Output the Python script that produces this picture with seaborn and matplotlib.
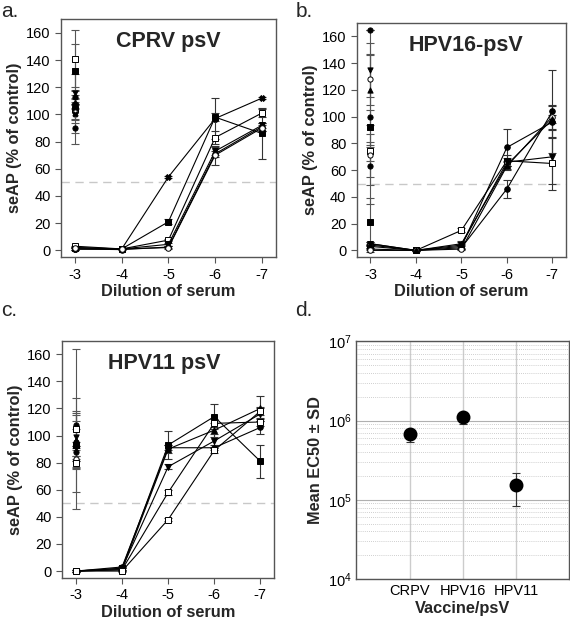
import numpy as np
import pandas as pd
import matplotlib.pyplot as plt
import seaborn as sns

# ---- data ----
dilutions = [3, 4, 5, 6, 7]
dilution_labels = ["-3", "-4", "-5", "-6", "-7"]

# panel a: CRPV psV, immune sera (lines)
a_means = [[1, 1, 54, 97, 112],
           [2, 1, 21, 98, 86],
           [3, 1, 7.5, 83, 101],
           [1, 1, 4.4, 73, 92],
           [1, 0.5, 2.4, 71, 91],
           [2, 1, 2, 70, 90]]
a_sds = [[0.5, 0.3, 1, 15, 1],
         [0.5, 0.3, 2, 3, 19],
         [0.5, 0.3, 1, 5, 3],
         [0.5, 0.3, 1, 3, 2],
         [0.5, 0.3, 1, 2, 3],
         [0.5, 0.3, 1, 7, 2]]
a_markers = ["X", "s", "s", "v", "o", "o"]
a_hollow = [False, False, True, False, False, True]
# panel a: control sera at -3
a_ctrl = [141, 132, 116, 113, 108, 104, 102, 100, 90]
a_ctrl_sd = [21, 20, 2, 4, 3, 26, 5, 4, 4]
a_ctrl_markers = ["s", "s", "v", "o", "D", "s", "o", "X", "o"]
a_ctrl_hollow = [True, False, False, False, False, False, True, False, False]

# panel b: HPV16-psV
b_means = [[4, 0, 3, 77, 96],
           [1, 0, 2, 46, 104],
           [3, 0, 15, 67, 65],
           [5, 0, 4, 66, 70],
           [0, 0, 1, 63, 100],
           [5, 0, 5, 64, 98]]
b_sds = [[1, 0.3, 2, 14, 12],
         [1, 0.3, 1, 7, 31],
         [1, 0.3, 1.5, 4, 20],
         [1, 0.3, 3, 3, 20],
         [1, 0.3, 1, 3, 9],
         [1, 0.3, 1, 3, 3]]
b_markers = ["o", "o", "s", "v", "o", "^"]
b_hollow = [False, False, True, False, True, False]
b_ctrl = [165, 135, 128, 120, 100, 92, 74, 71, 63, 21]
b_ctrl_sd = [0, 20, 19, 26, 65, 13, 7, 16, 14, 18]
b_ctrl_markers = ["o", "v", "o", "^", "o", "s", "s", "o", "o", "s"]
b_ctrl_hollow = [False, False, True, False, False, False, True, True, False, False]

# panel c: HPV11 psV
c_means = [[0, 2, 93, 114, 81],
           [0, 3, 91, 91, 106],
           [0, 1, 90, 104, 120],
           [0, 2, 77, 96, 116],
           [0, 1, 58, 109, 110],
           [0, 0, 38, 89, 118]]
c_sds = [[0.5, 1, 10, 9, 12],
         [0.5, 1, 2, 2, 5],
         [0.5, 1, 3, 5, 9],
         [0.5, 1, 2, 5, 4],
         [0.5, 1, 2, 3, 3],
         [0.5, 1, 1, 2, 3]]
c_markers = ["s", "o", "^", "v", "s", "s"]
c_hollow = [False, False, False, False, True, True]
c_ctrl = [108, 105, 99, 97, 95, 93, 92, 88, 83, 80]
c_ctrl_sd = [3, 59, 18, 21, 20, 35, 3, 3, 2, 3]
c_ctrl_markers = ["o", "s", "v", "^", "o", "s", "D", "o", "o", "s"]
c_ctrl_hollow = [False, True, False, False, False, False, False, False, True, True]

# panel d: EC50
vaccines = ["CRPV", "HPV16", "HPV11"]
ec50_mean = [6.7e5, 1.1e6, 1.53e5]
ec50_low = [5.3e5, 9.1e5, 8.3e4]
ec50_high = [7.6e5, 1.26e6, 2.2e5]

# ---- style ----
sns.set_style("ticks")
plt.rcParams["font.family"] = ["Liberation Sans", "DejaVu Sans"]
plt.rcParams["axes.edgecolor"] = "#555555"
plt.rcParams["xtick.color"] = "#555555"
plt.rcParams["ytick.color"] = "#555555"
plt.rcParams["xtick.labelcolor"] = "black"
plt.rcParams["ytick.labelcolor"] = "black"

fig = plt.figure(figsize=(5.7, 6.24), dpi=100)
ax_a = fig.add_axes([0.107, 0.588, 0.377, 0.381])
ax_b = fig.add_axes([0.626, 0.588, 0.367, 0.375])
ax_c = fig.add_axes([0.109, 0.074, 0.372, 0.380])
ax_d = fig.add_axes([0.625, 0.072, 0.374, 0.381])

lab_size = 11.8
tick_size = 10.5


def draw_panel(ax, means, sds, markers, hollow, ctrl, ctrl_sd, ctrl_markers, ctrl_hollow,
               title, title_x):
    ax.axhline(50, color="#c8c8c8", lw=1, ls=(0, (6, 4)), zorder=0)
    # control sera, only at the first dilution
    for i in range(len(ctrl)):
        ax.errorbar([dilutions[0]], [ctrl[i]], yerr=[ctrl_sd[i]], fmt="none",
                    ecolor="#555555", elinewidth=0.8, capsize=3, capthick=0.8, zorder=2)
        sns.scatterplot(x=[dilutions[0]], y=[ctrl[i]], ax=ax, marker=ctrl_markers[i],
                        s=14, color="white" if ctrl_hollow[i] else "black",
                        edgecolor="black", linewidth=0.7, zorder=4)
    # immune sera
    for i in range(len(means)):
        df = pd.DataFrame({"dilution": dilutions, "seap": means[i]})
        ax.errorbar(dilutions, means[i], yerr=sds[i], fmt="none", ecolor="#333333",
                    elinewidth=0.8, capsize=3, capthick=0.8, zorder=2)
        sns.lineplot(data=df, x="dilution", y="seap", ax=ax, color="black", linewidth=0.8,
                     marker=markers[i], markersize=4,
                     markerfacecolor="white" if hollow[i] else "black",
                     markeredgecolor="black", markeredgewidth=0.7, zorder=3)
    ax.set_xlim(2.7, 7.3)
    ax.set_ylim(-5, 170)
    ax.set_xticks(dilutions)
    ax.set_xticklabels(dilution_labels)
    ax.set_yticks(range(0, 161, 20))
    ax.tick_params(labelsize=tick_size, length=4, width=0.8)
    ax.set_xlabel("Dilution of serum", fontsize=lab_size, fontweight="bold", labelpad=2)
    ax.set_ylabel("seAP (% of control)", fontsize=lab_size, fontweight="bold", labelpad=3)
    ax.text(title_x, 0.95, title, transform=ax.transAxes, ha="center", va="top",
            fontsize=15.5, fontweight="bold")
    for sp in ax.spines.values():
        sp.set_linewidth(1.0)


draw_panel(ax_a, a_means, a_sds, a_markers, a_hollow, a_ctrl, a_ctrl_sd, a_ctrl_markers,
           a_ctrl_hollow, "CPRV psV", 0.5)
draw_panel(ax_b, b_means, b_sds, b_markers, b_hollow, b_ctrl, b_ctrl_sd, b_ctrl_markers,
           b_ctrl_hollow, "HPV16-psV", 0.52)
draw_panel(ax_c, c_means, c_sds, c_markers, c_hollow, c_ctrl, c_ctrl_sd, c_ctrl_markers,
           c_ctrl_hollow, "HPV11 psV", 0.48)

# panel d
ax_d.set_yscale("log")
sns.pointplot(x=vaccines, y=ec50_mean, ax=ax_d, color="black", linestyle="none",
              markers="o", markersize=8, errorbar=None, zorder=4)
yerr = [np.array(ec50_mean) - np.array(ec50_low), np.array(ec50_high) - np.array(ec50_mean)]
ax_d.errorbar(range(len(vaccines)), ec50_mean, yerr=yerr, fmt="none", ecolor="#333333",
              elinewidth=0.8, capsize=3, capthick=0.8, zorder=3)
ax_d.set_ylim(1e4, 1e7)
ax_d.set_xlim(-1, 3)
ax_d.grid(which="major", axis="y", color="#b0b0b0", lw=0.8, ls="-")
ax_d.grid(which="minor", axis="y", color="#c0c0c0", lw=0.6, ls=(0, (1, 1.5)))
ax_d.grid(which="major", axis="x", color="#cccccc", lw=1, ls="-")
ax_d.set_axisbelow(True)
ax_d.tick_params(labelsize=tick_size, length=0, which="both")
ax_d.set_xlabel("Vaccine/psV", fontsize=lab_size, fontweight="bold", labelpad=2)
ax_d.set_ylabel("Mean EC50 ± SD", fontsize=lab_size, fontweight="bold", labelpad=3)
for sp in ax_d.spines.values():
    sp.set_linewidth(1.0)

# panel letters
for x, y, s in [(0.002, 0.997, "a."), (0.518, 0.997, "b."),
                (0.002, 0.517, "c."), (0.518, 0.517, "d.")]:
    fig.text(x, y, s, ha="left", va="top", fontsize=15)

plt.savefig("out.png", dpi=100)
